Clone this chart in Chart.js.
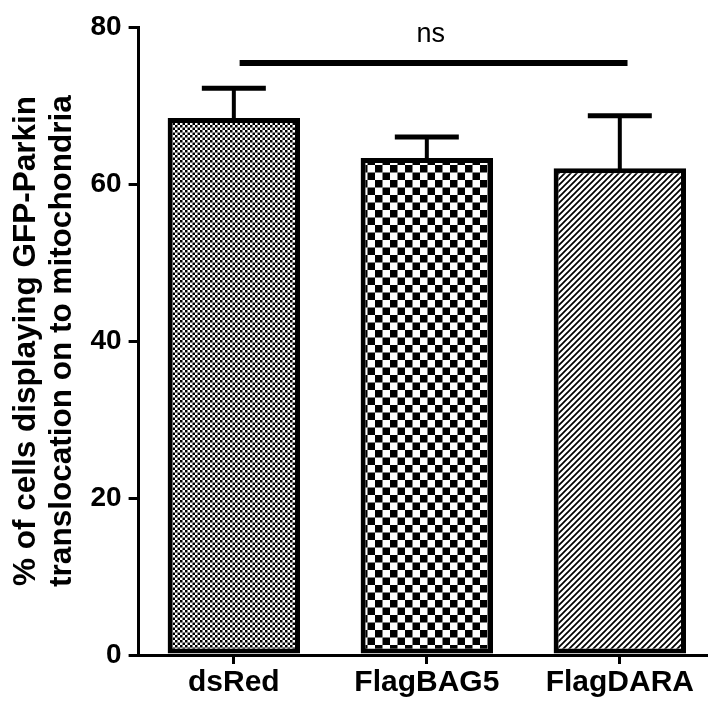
<!DOCTYPE html>
<html>
<head>
<meta charset="utf-8">
<script src="https://cdn.jsdelivr.net/npm/chart.js@4.4.1/dist/chart.umd.min.js"></script>
<style>
  html, body { margin: 0; padding: 0; background: #fff; }
  #wrap { width: 708px; height: 702px; }
</style>
</head>
<body>
<div id="wrap"><canvas id="bars"></canvas></div>
<script>
const categories = ['dsRed', 'FlagBAG5', 'FlagDARA'];
const means = [68.4, 63.3, 62.0];
const errors = [3.8, 2.7, 6.7];
const yTicks = [0, 20, 40, 60, 80];
const sigLabel = 'ns';
const sigLevel = 75.4;

const FONT = '"Liberation Sans", Arial, sans-serif';

// fill patterns for the three bars
function checkerPattern(cell) {
    const c = document.createElement('canvas');
    c.width = c.height = cell * 2;
    const g = c.getContext('2d');
    g.fillStyle = '#fff';
    g.fillRect(0, 0, cell * 2, cell * 2);
    g.fillStyle = '#000';
    g.fillRect(0, 0, cell, cell);
    g.fillRect(cell, cell, cell, cell);
    return document.createElement('canvas').getContext('2d').createPattern(c, 'repeat');
}

function hatchPattern(step) {
    const c = document.createElement('canvas');
    c.width = c.height = step;
    const g = c.getContext('2d');
    g.fillStyle = '#fff';
    g.fillRect(0, 0, step, step);
    g.strokeStyle = '#000';
    g.lineWidth = 1.7;
    g.beginPath();
    g.moveTo(-1, step + 1); g.lineTo(step + 1, -1);
    g.moveTo(-1, 1); g.lineTo(1, -1);
    g.moveTo(step - 1, step + 1); g.lineTo(step + 1, step - 1);
    g.stroke();
    return document.createElement('canvas').getContext('2d').createPattern(c, 'repeat');
}

const fills = [checkerPattern(2.5), checkerPattern(7.5), hatchPattern(6)];

const errorBars = {
    id: 'errorBars',
    afterDatasetsDraw(chart) {
        const ctx = chart.ctx;
        const x = chart.scales.x, y = chart.scales.y;
        ctx.save();
        ctx.strokeStyle = '#000';
        means.forEach((m, i) => {
            const px = x.getPixelForValue(i);
            const top = y.getPixelForValue(m + errors[i]);
            ctx.lineWidth = 4;
            ctx.beginPath();
            ctx.moveTo(px, y.getPixelForValue(m) + 2);
            ctx.lineTo(px, top);
            ctx.stroke();
            ctx.lineWidth = 5;
            ctx.beginPath();
            ctx.moveTo(px - 32, top);
            ctx.lineTo(px + 32, top);
            ctx.stroke();
        });
        // significance bar
        const sy = y.getPixelForValue(sigLevel);
        ctx.lineWidth = 6;
        ctx.beginPath();
        ctx.moveTo(x.getPixelForValue(0.03), sy);
        ctx.lineTo(x.getPixelForValue(2.04), sy);
        ctx.stroke();
        ctx.fillStyle = '#000';
        ctx.font = '27px ' + FONT;
        ctx.textAlign = 'center';
        ctx.textBaseline = 'middle';
        ctx.fillText(sigLabel, x.getPixelForValue(1.02), sy - 29);
        ctx.restore();
    }
};

new Chart(document.getElementById('bars'), {
    type: 'bar',
    data: {
        datasets: [{
            data: means.map((v, i) => ({ x: i, y: v })),
            backgroundColor: fills,
            borderColor: '#000',
            borderWidth: 5,
            borderSkipped: false,
            categoryPercentage: 1,
            barPercentage: 0.686
        }]
    },
    options: {
        responsive: true,
        maintainAspectRatio: false,
        animation: false,
        layout: { padding: { top: 27, left: 0, right: 0, bottom: 0 } },
        plugins: { legend: { display: false }, tooltip: { enabled: false } },
        scales: {
            x: {
                type: 'linear',
                offset: false,
                min: -0.4935,
                max: 2.457,
                afterBuildTicks: s => { s.ticks = categories.map((c, i) => ({ value: i })); },
                ticks: {
                    autoSkip: false,
                    maxRotation: 0,
                    padding: 1,
                    color: '#000',
                    font: { family: FONT, size: 30, weight: 'bold' },
                    callback: v => categories[v]
                },
                grid: { offset: false, drawOnChartArea: false, drawTicks: true, tickLength: 9, color: '#000', lineWidth: 3 },
                border: { color: '#000', width: 3 }
            },
            y: {
                min: 0,
                max: 80,
                afterBuildTicks: s => { s.ticks = yTicks.map(v => ({ value: v })); },
                ticks: {
                    padding: 7,
                    color: '#000',
                    font: { family: FONT, size: 28, weight: 'bold' }
                },
                grid: { drawOnChartArea: false, drawTicks: true, tickLength: 10, color: '#000', lineWidth: 3 },
                border: { color: '#000', width: 3 },
                title: {
                    display: true,
                    text: ['% of cells displaying GFP-Parkin', 'translocation on to mitochondria'],
                    color: '#000',
                    font: { family: FONT, size: 31.5, weight: 'bold', lineHeight: 1.15 },
                    padding: { top: 8, bottom: 3 }
                }
            }
        }
    },
    plugins: [errorBars]
});
</script>
</body>
</html>
